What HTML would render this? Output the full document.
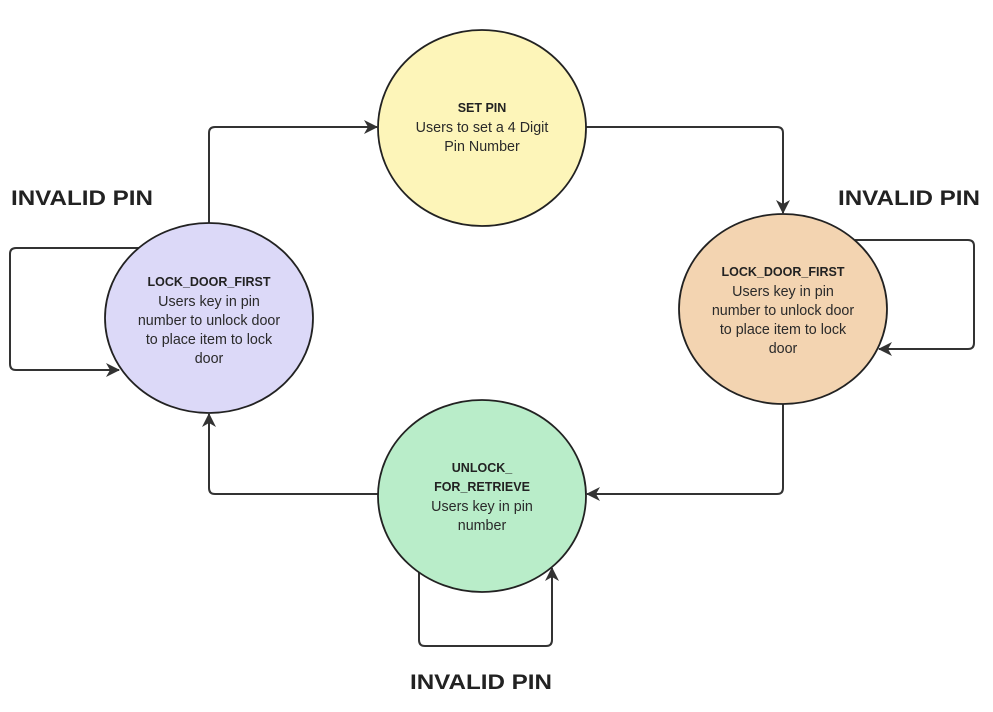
<!DOCTYPE html>
<html><head><style>body{margin:0;background:#fff}svg{display:block}
text{font-family:"Liberation Sans","DejaVu Sans",sans-serif;fill:#2a2a2a;font-size:14.3px;text-anchor:middle}
.b{font-weight:bold;font-size:12.5px;fill:#222}.big{font-weight:bold;font-size:21px;text-anchor:start;fill:#222}</style></head>
<body><svg width="993" height="712" viewBox="0 0 993 712">
<defs><marker id="a" markerWidth="14" markerHeight="14" refX="13" refY="7" orient="auto" markerUnits="userSpaceOnUse"><path d="M0,0 L14,7 L0,14 L4,7 z" fill="#333"/></marker></defs>
<g fill="none" stroke="#333" stroke-width="2" marker-end="url(#a)">
<path d="M209,224 V133 Q209,127 215,127 H377"/>
<path d="M586,127 H777 Q783,127 783,133 V213"/>
<path d="M783,404 V488 Q783,494 777,494 H587"/>
<path d="M378,494 H215 Q209,494 209,488 V414"/>
<path d="M140,248 H16 Q10,248 10,254 V364 Q10,370 16,370 H119"/>
<path d="M855,240 H968 Q974,240 974,246 V343 Q974,349 968,349 H879"/>
<path d="M419,572 V640 Q419,646 425,646 H546 Q552,646 552,640 V568"/>
</g>
<g stroke="#222" stroke-width="1.8">
<ellipse cx="482" cy="128" rx="104" ry="98" fill="#fdf5b9"/>
<ellipse cx="783" cy="309" rx="104" ry="95" fill="#f3d4b1"/>
<ellipse cx="209" cy="318" rx="104" ry="95" fill="#dcd9f8"/>
<ellipse cx="482" cy="496" rx="104" ry="96" fill="#b9edc9"/>
</g>
<text class="b" x="482" y="112">SET PIN</text>
<text x="482" y="132">Users to set a 4 Digit</text>
<text x="482" y="151">Pin Number</text>
<text class="b" x="783" y="276">LOCK_DOOR_FIRST</text>
<text x="783" y="296">Users key in pin</text>
<text x="783" y="315">number to unlock door</text>
<text x="783" y="334">to place item to lock</text>
<text x="783" y="353">door</text>
<text class="b" x="209" y="286">LOCK_DOOR_FIRST</text>
<text x="209" y="306">Users key in pin</text>
<text x="209" y="325">number to unlock door</text>
<text x="209" y="344">to place item to lock</text>
<text x="209" y="363">door</text>
<text class="b" x="482" y="472">UNLOCK_</text>
<text class="b" x="482" y="491">FOR_RETRIEVE</text>
<text x="482" y="511">Users key in pin</text>
<text x="482" y="530">number</text>
<text class="big" x="11" y="205" textLength="142" lengthAdjust="spacingAndGlyphs">INVALID PIN</text>
<text class="big" x="838" y="205" textLength="142" lengthAdjust="spacingAndGlyphs">INVALID PIN</text>
<text class="big" x="410" y="689" textLength="142" lengthAdjust="spacingAndGlyphs">INVALID PIN</text>
</svg></body></html>
